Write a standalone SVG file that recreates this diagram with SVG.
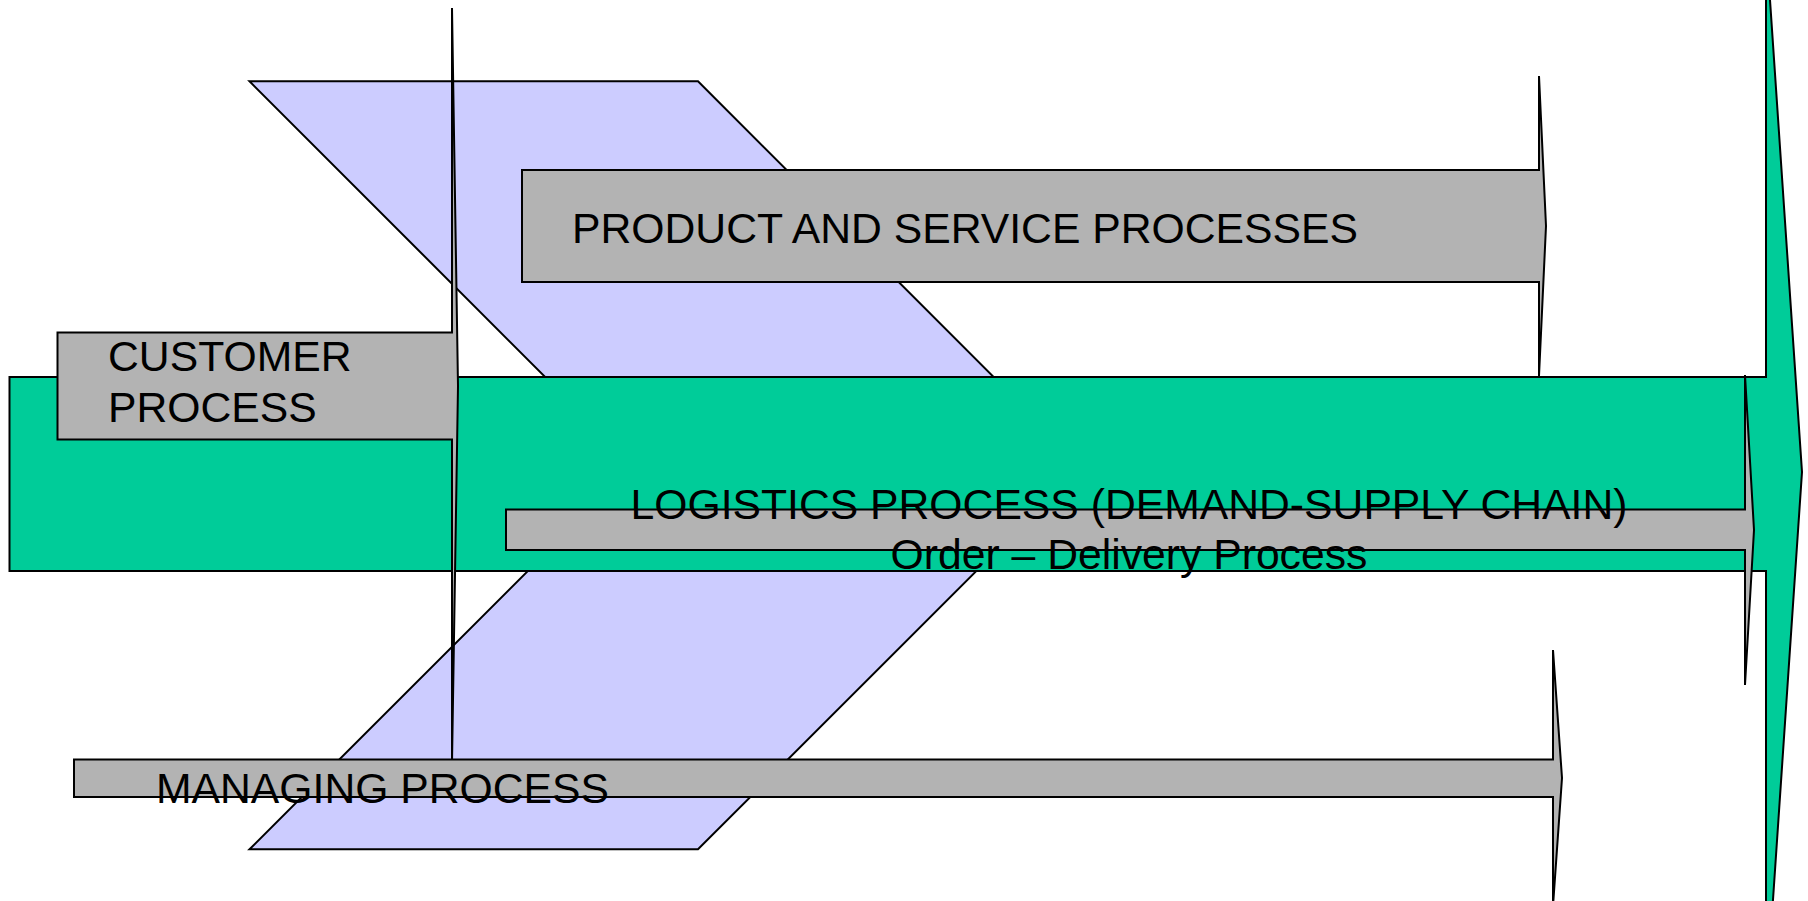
<svg xmlns="http://www.w3.org/2000/svg" width="1808" height="901" viewBox="0 0 1808 901">
  <style>
    .shape { stroke: #000000; stroke-width: 2; stroke-linejoin: miter; }
    .band { fill: #CCCCFF; }
    .flow { fill: #00CC99; }
    .proc { fill: #B3B3B3; }
    .label { font-family: "Liberation Sans", Arial, sans-serif; font-size: 42.7px; fill: #000000; }
  </style>
  <rect width="1808" height="901" fill="#FFFFFF"/>

  <!-- chevron band behind the main flow -->
  <g id="band">
    <polygon class="shape band" points="249.5,81.3 698,81.3 1082,465.3 698,849.3 249.5,849.3 633.5,465.3"/>
  </g>

  <!-- main flow arrow -->
  <g id="main-flow">
    <polygon class="shape flow" points="9.5,377 1766,377 1766,-59 1802,472 1766,1003 1766,571 9.5,571"/>
  </g>

  <g id="connectors"></g>

  <g id="product-service">
    <polygon class="shape proc" points="522,170 1539,170 1539,76 1546,226 1539,376 1539,282 522,282"/>
    <text class="label" x="572" y="243">PRODUCT AND SERVICE PROCESSES</text>
  </g>

  <g id="customer">
    <polygon class="shape proc" points="57.5,332.5 452,332.5 452,8 458,386 452,763 452,439.5 57.5,439.5"/>
    <text class="label" x="108" y="371">CUSTOMER</text>
    <text class="label" x="108" y="422">PROCESS</text>
  </g>

  <g id="logistics">
    <polygon class="shape proc" points="506,509.5 1745,509.5 1745,375 1754,530 1745,685 1745,550 506,550"/>
    <text class="label" x="1129" y="519" text-anchor="middle">LOGISTICS PROCESS (DEMAND-SUPPLY CHAIN)</text>
    <text class="label" x="1129" y="569" text-anchor="middle">Order – Delivery Process</text>
  </g>

  <g id="managing">
    <polygon class="shape proc" points="74,759.5 1553,759.5 1553,650 1562,778 1553,906 1553,797 74,797"/>
    <text class="label" x="156" y="803">MANAGING PROCESS</text>
  </g>
</svg>
